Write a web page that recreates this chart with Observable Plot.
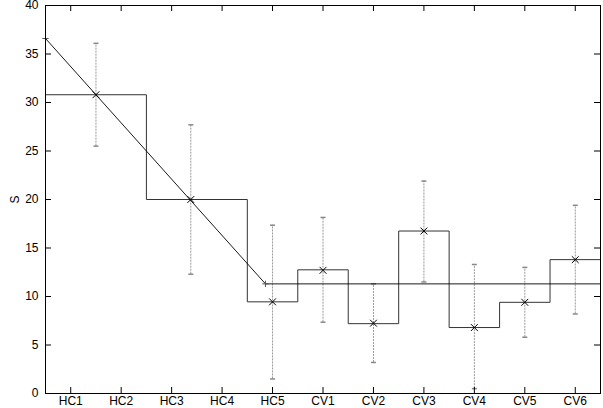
<!DOCTYPE html>
<html>
<head>
<meta charset="utf-8">
<script src="https://cdn.jsdelivr.net/npm/d3@7"></script>
<script src="https://cdn.jsdelivr.net/npm/@observablehq/plot@0.6"></script>
<style>
  html, body { margin: 0; padding: 0; background: #fff; }
</style>
</head>
<body>
<div id="chart"></div>
<script>
// Category ticks
const xTicks = [1, 2, 3, 4, 5, 6, 7, 8, 9, 10, 11];
const xLabels = ["HC1", "HC2", "HC3", "HC4", "HC5", "CV1", "CV2", "CV3", "CV4", "CV5", "CV6"];
const yTicks = [0, 5, 10, 15, 20, 25, 30, 35, 40];

// Measured points with error bars
const ptX = [1.5, 3.38, 5, 6, 7, 8, 9, 10, 11];
const ptY = [30.8, 20.0, 9.45, 12.7, 7.25, 16.75, 6.8, 9.4, 13.8];
const errLow = [25.5, 12.3, 1.5, 7.35, 3.2, 11.5, 0.5, 5.8, 8.2];
const errHigh = [36.1, 27.7, 17.35, 18.15, 11.3, 21.9, 13.3, 13.0, 19.4];

// Step function (group means)
const stepEdges = [0.5, 2.5, 4.5, 5.5, 6.5, 7.5, 8.5, 9.5, 10.5, 11.5];
const stepValues = [30.8, 20.0, 9.45, 12.75, 7.2, 16.75, 6.8, 9.4, 13.8, 13.8];

// Broken-line fit
const fitX = [0.5, 4.86, 11.5];
const fitY = [36.6, 11.3, 11.3];
const fitKnotX = [0.5, 4.86];
const fitKnotY = [36.6, 11.3];

const points = ptX.map((x, i) => ({x, y: ptY[i], lo: errLow[i], hi: errHigh[i]}));
const steps = stepEdges.map((x, i) => ({x, y: stepValues[i]}));
const fit = fitX.map((x, i) => ({x, y: fitY[i]}));
const knots = fitKnotX.map((x, i) => ({x, y: fitKnotY[i]}));

const capSymbol = {
  draw(ctx, size) {
    const w = 2.5;
    ctx.moveTo(-w, 0);
    ctx.lineTo(w, 0);
  }
};

const W = 603, H = 408, mL = 45, mR = 3, mT = 5, mB = 15;
const frameH = H - mT - mB, frameW = W - mL - mR;

const chart = Plot.plot({
  width: W,
  height: H,
  marginLeft: mL,
  marginRight: mR,
  marginTop: mT,
  marginBottom: mB,
  style: {fontFamily: "'Liberation Sans', Arial, sans-serif", fontSize: "12px", color: "#000", background: "#fff"},
  x: {type: "linear", domain: [0.5, 11.5]},
  y: {type: "linear", domain: [0, 40]},
  marks: [
    // error bars
    Plot.ruleX(points, {x: "x", y1: "lo", y2: "hi", stroke: "#999", strokeWidth: 1, strokeDasharray: "2,1"}),
    Plot.dot(points, {x: "x", y: "lo", symbol: capSymbol, stroke: "#888", fill: "none", r: 2}),
    Plot.dot(points, {x: "x", y: "hi", symbol: capSymbol, stroke: "#888", fill: "none", r: 2}),
    // step function
    Plot.line(steps, {x: "x", y: "y", curve: "step-after", stroke: "#333", strokeWidth: 1}),
    // fit line
    Plot.line(fit, {x: "x", y: "y", stroke: "#000", strokeWidth: 0.9}),
    Plot.dot(knots, {x: "x", y: "y", symbol: "plus", r: 2.2, stroke: "#555", strokeWidth: 1}),
    // markers
    Plot.dot(points, {x: "x", y: "y", symbol: "times", r: 3.2, stroke: "#000", strokeWidth: 1}),
    // inward ticks
    Plot.tickX(xTicks, {x: d => d, stroke: "#000", insetTop: frameH - 6}),
    Plot.tickX(xTicks, {x: d => d, stroke: "#000", insetBottom: frameH - 6}),
    Plot.tickY(yTicks, {y: d => d, stroke: "#000", insetRight: frameW - 6}),
    Plot.tickY(yTicks, {y: d => d, stroke: "#000", insetLeft: frameW - 6}),
    // axes (labels only)
    Plot.axisX(xTicks, {anchor: "bottom", tickSize: 0, tickPadding: 3, tickFormat: (d, i) => xLabels[i], label: null, fontSize: 12}),
    Plot.axisY(yTicks, {anchor: "left", tickSize: 0, tickPadding: 7, label: "S", labelAnchor: "center", labelOffset: 35, labelArrow: false, fontSize: 12}),
    Plot.frame({stroke: "#000", strokeWidth: 1})
  ]
});
document.getElementById("chart").appendChild(chart);
</script>
</body>
</html>
